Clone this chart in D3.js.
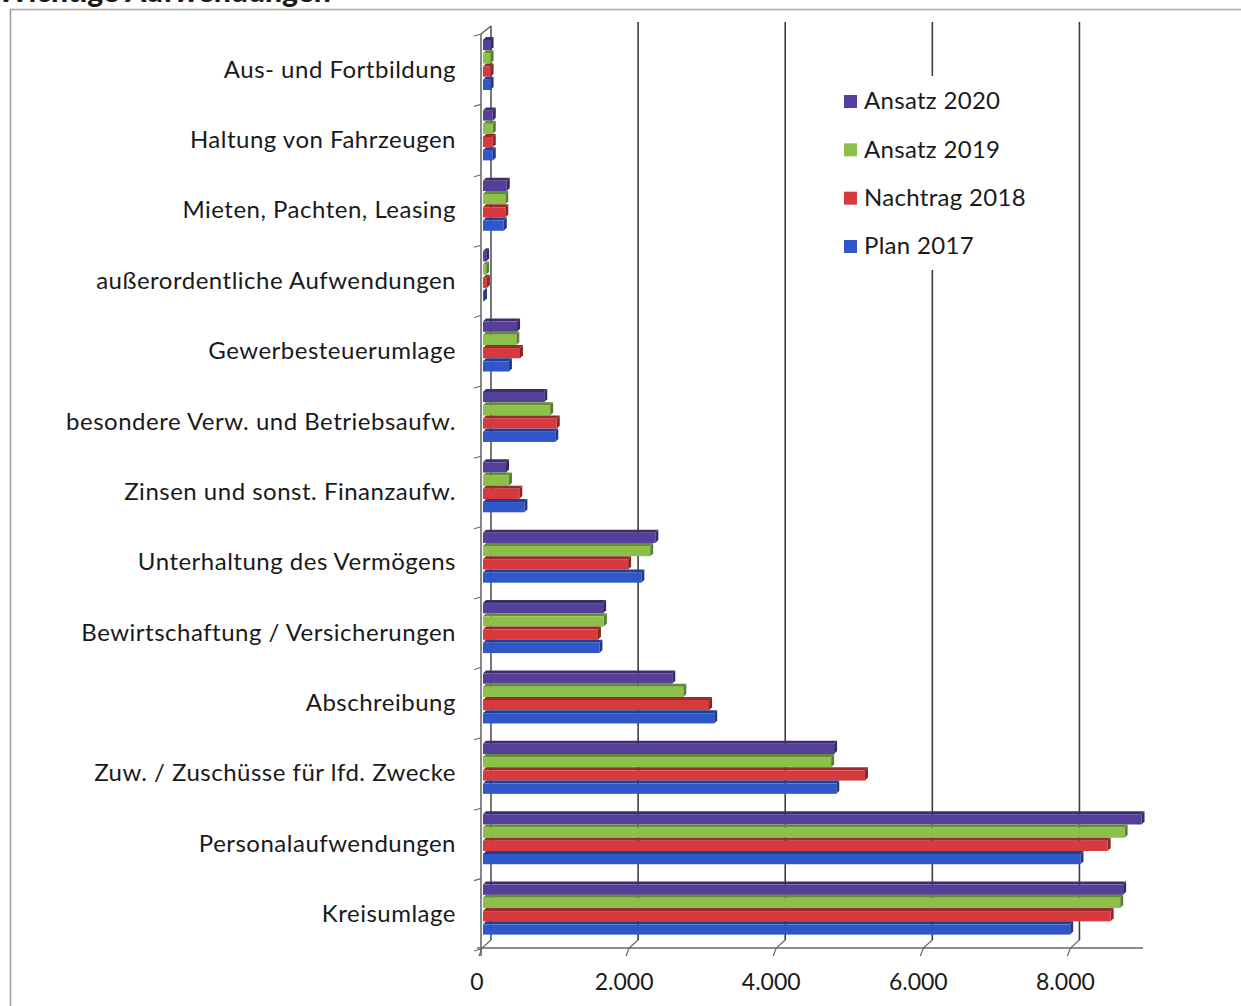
<!DOCTYPE html>
<html>
<head>
<meta charset="utf-8">
<script src="https://cdn.jsdelivr.net/npm/d3@7"></script>
<style>
  html, body { margin: 0; padding: 0; background: #fff; }
  svg { display: block; }
  text { font-family: Lato, "Open Sans", sans-serif; fill: #1a1a1a; }
</style>
</head>
<body>
<svg id="chart" width="1241" height="1006"></svg>
<script>
// Kategorien von oben nach unten
const categories = [
  "Aus- und Fortbildung",
  "Haltung von Fahrzeugen",
  "Mieten, Pachten, Leasing",
  "außerordentliche Aufwendungen",
  "Gewerbesteuerumlage",
  "besondere Verw. und Betriebsaufw.",
  "Zinsen und sonst. Finanzaufw.",
  "Unterhaltung des Vermögens",
  "Bewirtschaftung / Versicherungen",
  "Abschreibung",
  "Zuw. / Zuschüsse für lfd. Zwecke",
  "Personalaufwendungen",
  "Kreisumlage"
];

// Reihen (in Tsd. EUR), gleiche Reihenfolge wie categories
const seriesNames = ["Ansatz 2020", "Ansatz 2019", "Nachtrag 2018", "Plan 2017"];
const ansatz2020   = [130, 160, 350, 70, 490, 860, 340, 2370, 1660, 2600, 4800, 8980, 8730];
const ansatz2019   = [130, 160, 330, 70, 480, 940, 380, 2300, 1670, 2750, 4760, 8750, 8690];
const nachtrag2018 = [130, 160, 330, 80, 530, 1030, 520, 2000, 1590, 3100, 5220, 8520, 8560];
const plan2017     = [130, 160, 310, 40, 380, 1010, 590, 2180, 1610, 3170, 4830, 8150, 8010];
const seriesValues = [ansatz2020, ansatz2019, nachtrag2018, plan2017];
const seriesColors = ["#54409a", "#8cc04a", "#d63a3c", "#2f57c9"];

const xTicks = [0, 2000, 4000, 6000, 8000];
const xTickLabels = ["0", "2.000", "4.000", "6.000", "8.000"];

const svg = d3.select("#chart");
const fmt = d3.format(",");

// Tiefe der 3D-Darstellung
const depthX = 10, depthY = -8;

const x = d3.scaleLinear().domain([0, 9000]).range([481, 1143]);
const y = d3.scaleBand().domain(categories).range([34, 949]).paddingInner(0).paddingOuter(0);
const ySeries = d3.scaleBand().domain(seriesNames).range([3, 56]).padding(0);

// Rahmen und Titel
svg.append("text")
  .attr("x", -3).attr("y", 2)
  .style("font-family", "Lato, sans-serif")
  .style("font-weight", "900")
  .style("font-size", "30px")
  .text("Wichtige Aufwendungen");
svg.append("line").attr("x1", 10).attr("x2", 1241).attr("y1", 9.5).attr("y2", 9.5)
  .attr("stroke", "#a6a6a6").attr("stroke-width", 1.5);
svg.append("line").attr("x1", 10.5).attr("x2", 10.5).attr("y1", 9).attr("y2", 1006)
  .attr("stroke", "#9a9a9a").attr("stroke-width", 1.5);

// Rückwand-Gitterlinien
const grid = svg.append("g");
grid.selectAll("line.grid")
  .data(xTicks.filter(d => d > 0))
  .join("line")
  .attr("class", "grid")
  .attr("x1", d => x(d) + depthX).attr("x2", d => x(d) + depthX)
  .attr("y1", 22).attr("y2", 948 + depthY)
  .attr("stroke", "#3c3c44").attr("stroke-width", 1.6);

// Rückwand-Achse (0) und vordere Achse
grid.append("line")
  .attr("x1", x(0) + depthX).attr("x2", x(0) + depthX)
  .attr("y1", 34 + depthY).attr("y2", 948 + depthY)
  .attr("stroke", "#3c3c44").attr("stroke-width", 1.4);
grid.append("line")
  .attr("x1", x(0)).attr("x2", x(0) + depthX)
  .attr("y1", 34).attr("y2", 34 + depthY)
  .attr("stroke", "#555").attr("stroke-width", 1.2);
grid.append("line")
  .attr("x1", x(0)).attr("x2", x(0))
  .attr("y1", 34).attr("y2", 956)
  .attr("stroke", "#555").attr("stroke-width", 1.4);

// Kategorietrenner an der Achse
grid.selectAll("line.ytick")
  .data(categories.map(c => y(c)).concat([y.range()[1]]))
  .join("line")
  .attr("class", "ytick")
  .attr("x1", x(0) - 7).attr("x2", x(0))
  .attr("y1", d => d + 2).attr("y2", d => d)
  .attr("stroke", "#666").attr("stroke-width", 1.1);

// Boden-Achse
grid.append("line")
  .attr("x1", x(0) - 4).attr("x2", x(9000))
  .attr("y1", 948).attr("y2", 948)
  .attr("stroke", "#666").attr("stroke-width", 1.4);
grid.selectAll("path.xtick")
  .data(xTicks)
  .join("path")
  .attr("class", "xtick")
  .attr("d", d => `M${x(d) - 2},${956} L${x(d) + 1},${948} L${x(d) + depthX},${948 + depthY}`)
  .attr("fill", "none")
  .attr("stroke", "#666").attr("stroke-width", 1.2);

// Balken (3D)
const capX = 3, capY = 3;
const bars = svg.append("g");
categories.forEach((cat, ci) => {
  seriesNames.forEach((s, si) => {
    const v = seriesValues[si][ci];
    const base = d3.color(seriesColors[si]);
    const x0 = x(0) + 2, x1 = x(v);
    const yt = y(cat) + ySeries(s);
    const h = ySeries.bandwidth();
    const g = bars.append("g");
    // Oberseite
    g.append("path")
      .attr("d", `M${x0},${yt + capY} L${x0 + capX},${yt} L${x1 + capX},${yt} L${x1},${yt + capY} Z`)
      .attr("fill", base.darker(0.9));
    // Stirnseite
    g.append("path")
      .attr("d", `M${x1},${yt + capY} L${x1 + capX},${yt} L${x1 + capX},${yt + h - capY} L${x1},${yt + h} Z`)
      .attr("fill", base.darker(1.2));
    // Vorderseite
    g.append("rect")
      .attr("x", x0).attr("y", yt + capY)
      .attr("width", Math.max(0, x1 - x0)).attr("height", h - capY)
      .attr("fill", base);
    g.append("title").text(`${cat} – ${s}: ${fmt(v)}`);
  });
});

// Kategoriebeschriftungen
svg.append("g").selectAll("text")
  .data(categories)
  .join("text")
  .attr("x", 456)
  .attr("y", d => y(d) + y.bandwidth() / 2)
  .attr("dy", "0.35em")
  .attr("text-anchor", "end")
  .style("font-size", "24px")
  .style("letter-spacing", "0.5px")
  .text(d => d);

// Achsenbeschriftungen
svg.append("g").selectAll("text")
  .data(xTicks)
  .join("text")
  .attr("x", d => x(d) - 4)
  .attr("y", 982)
  .attr("dy", "0.35em")
  .attr("text-anchor", "middle")
  .style("font-size", "23px")
  .text((d, i) => xTickLabels[i]);

// Legende
const legend = svg.append("g");
legend.append("rect")
  .attr("x", 836).attr("y", 76).attr("width", 190).attr("height", 194)
  .attr("fill", "#fff");
const ly = d3.scalePoint().domain(seriesNames).range([101, 246]);
legend.selectAll("rect.key")
  .data(seriesNames)
  .join("rect")
  .attr("class", "key")
  .attr("x", 844).attr("y", d => ly(d) - 6)
  .attr("width", 13).attr("height", 13)
  .attr("fill", (d, i) => seriesColors[i]);
legend.selectAll("text")
  .data(seriesNames)
  .join("text")
  .attr("x", 864).attr("y", d => ly(d))
  .attr("dy", "0.35em")
  .style("font-size", "24px")
  .style("letter-spacing", "0.3px")
  .text(d => d);
</script>
</body>
</html>
